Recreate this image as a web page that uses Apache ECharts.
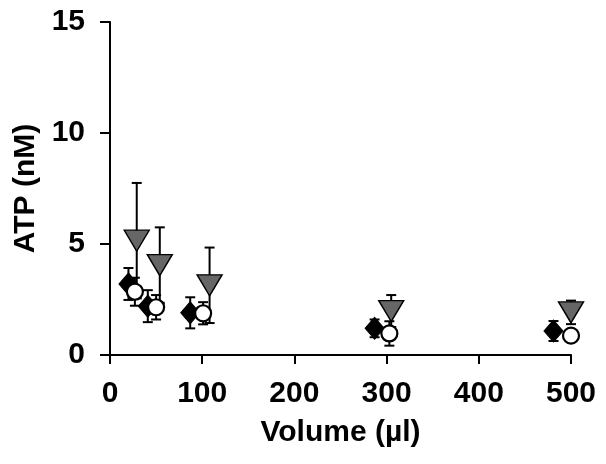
<!DOCTYPE html>
<html>
<head>
<meta charset="utf-8">
<script src="https://cdn.jsdelivr.net/npm/echarts@6/dist/echarts.min.js"></script>
<style>html,body{margin:0;padding:0;background:#fff}#c{width:606px;height:464px}</style>
</head>
<body>
<div id="c"></div>
<script>
// Data
var diamondX = [20, 41, 87, 287, 481];
var diamondY = [3.2, 2.2, 1.9, 1.2, 1.08];
var diamondErr = [0.72, 0.72, 0.7, 0.4, 0.45];

var circleX = [27, 50, 101, 303, 500];
var circleY = [2.85, 2.15, 1.88, 0.97, 0.87];
var circleErr = [0.63, 0.55, 0.5, 0.55, 0.0];

var triangleX = [29, 54, 108, 305, 500];
var triangleY = [5.15, 4.05, 3.14, 1.98, 1.92];
var triangleErr = [2.6, 1.7, 1.7, 0.72, 0.53];

var xTicks = [0, 100, 200, 300, 400, 500];
var yTicks = [0, 5, 10, 15];

var FONT = "'Liberation Sans',Arial,sans-serif";

function pts(xs, ys) { return xs.map(function (x, i) { return [x, ys[i]]; }); }
function errPts(xs, ys, es) { return xs.map(function (x, i) { return [x, ys[i], es[i]]; }); }

function errSeries(xs, ys, es) {
  return {
    type: 'custom',
    z: 1,
    silent: true,
    data: errPts(xs, ys, es),
    renderItem: function (params, api) {
      var x = api.value(0), y = api.value(1), e = api.value(2);
      if (!e) return null;
      var top = api.coord([x, y + e]);
      var bot = api.coord([x, y - e]);
      var hw = 5;
      var st = { stroke: '#000', lineWidth: 2 };
      return {
        type: 'group',
        children: [
          { type: 'line', shape: { x1: top[0], y1: top[1], x2: bot[0], y2: bot[1] }, style: st },
          { type: 'line', shape: { x1: top[0] - hw, y1: top[1], x2: top[0] + hw, y2: top[1] }, style: st },
          { type: 'line', shape: { x1: bot[0] - hw, y1: bot[1], x2: bot[0] + hw, y2: bot[1] }, style: st }
        ]
      };
    }
  };
}

var chart = echarts.init(document.getElementById('c'), null, { renderer: 'canvas' });
chart.setOption({
  animation: false,
  backgroundColor: '#fff',
  grid: { left: 110, right: 35, top: 22, bottom: 109, containLabel: false },
  xAxis: {
    type: 'value', min: 0, max: 500, interval: 100,
    name: 'Volume (µl)', nameLocation: 'middle', nameGap: 63,
    nameTextStyle: { fontFamily: FONT, fontWeight: 'bold', fontSize: 30, color: '#000' },
    axisLine: { show: true, lineStyle: { color: '#000', width: 2 } },
    axisTick: { show: true, length: 9, lineStyle: { color: '#000', width: 2 } },
    axisLabel: { fontFamily: FONT, fontWeight: 'bold', fontSize: 30, color: '#000', margin: 24,
      formatter: function (v) { return xTicks.indexOf(v) >= 0 ? String(v) : ''; } },
    splitLine: { show: false }
  },
  yAxis: {
    type: 'value', min: 0, max: 15, interval: 5,
    name: 'ATP (nM)', nameLocation: 'middle', nameGap: 62, nameRotate: 90,
    nameTextStyle: { fontFamily: FONT, fontWeight: 'bold', fontSize: 30, color: '#000' },
    axisLine: { show: true, lineStyle: { color: '#000', width: 2 } },
    axisTick: { show: true, length: 10, lineStyle: { color: '#000', width: 2 } },
    axisLabel: { fontFamily: FONT, fontWeight: 'bold', fontSize: 30, color: '#000', margin: 25,
      formatter: function (v) { return yTicks.indexOf(v) >= 0 ? String(v) : ''; } },
    splitLine: { show: false }
  },
  series: [
    errSeries(diamondX, diamondY, diamondErr),
    errSeries(circleX, circleY, circleErr),
    errSeries(triangleX, triangleY, triangleErr),
    {
      type: 'scatter', z: 3, data: pts(diamondX, diamondY),
      symbol: 'diamond', symbolSize: [19, 22],
      itemStyle: { color: '#000', borderColor: '#000', borderWidth: 1, opacity: 1 }
    },
    {
      type: 'scatter', z: 4, data: pts(circleX, circleY),
      symbol: 'circle', symbolSize: 16,
      itemStyle: { color: '#fff', borderColor: '#000', borderWidth: 2.2, opacity: 1 }
    },
    {
      type: 'scatter', z: 5, data: pts(triangleX, triangleY),
      symbol: 'triangle', symbolSize: [25, 21], symbolRotate: 180,
      itemStyle: { color: '#666', borderColor: '#000', borderWidth: 1.4, opacity: 1 }
    }
  ]
});
</script>
</body>
</html>
